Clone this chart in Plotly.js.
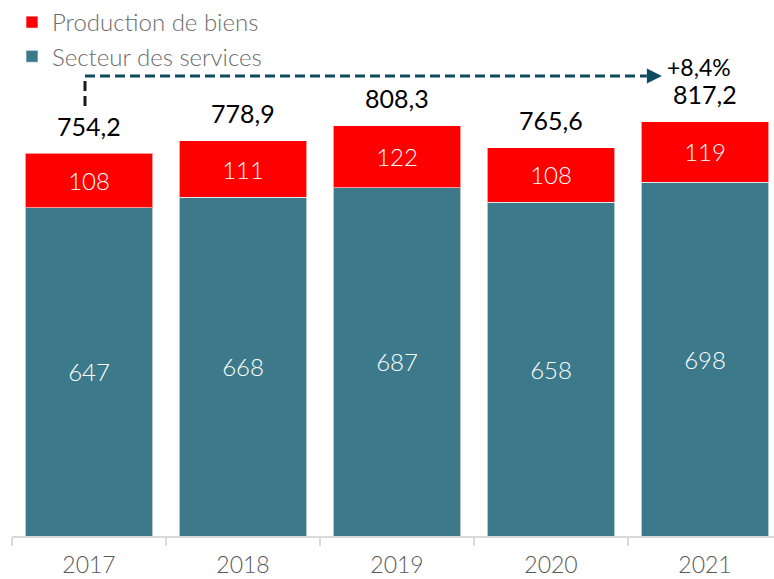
<!DOCTYPE html>
<html>
<head>
<meta charset="utf-8">
<script src="https://cdn.plot.ly/plotly-3.0.1.min.js"></script>
<style>html,body{margin:0;padding:0;background:#fff;}#chart{width:774px;height:579px;}</style>
</head>
<body>
<div id="chart"></div>
<script>
var years = ['2017', '2018', '2019', '2020', '2021'];
var services = [647, 668, 687, 658, 698];
var biens = [108, 111, 122, 108, 119];
var totals = [754.2, 778.9, 808.3, 765.6, 817.2];
var growthLabel = '+8,4%';

function fr(v) { return v.toFixed(1).replace('.', ','); }

var lineStyle = {color: 'rgba(255,255,255,0.6)', width: 1};
var innerFont = {family: 'Lato', size: 24, color: '#ffffff', weight: 300};
var traces = [
  {
    type: 'bar', name: 'Secteur des services', x: years, y: services,
    marker: {color: '#3C7A8B', line: lineStyle},
    text: services.map(String), textposition: 'inside', insidetextanchor: 'middle',
    textfont: innerFont, hoverinfo: 'none'
  },
  {
    type: 'bar', name: 'Production de biens', x: years, y: biens,
    marker: {color: '#FF0000', line: lineStyle},
    text: biens.map(String), textposition: 'inside', insidetextanchor: 'middle',
    textfont: innerFont, hoverinfo: 'none'
  }
];

var annotations = years.map(function (yr, i) {
  return {
    x: i, y: totals[i], xref: 'x', yref: 'y', text: fr(totals[i]),
    showarrow: false, yanchor: 'middle', yshift: 28,
    font: {family: 'Lato', size: 25, color: '#000000'}
  };
});

var first = 0, last = years.length - 1;
var arrowY = 907;
var tipX = last - 0.28;
annotations.push({
  x: tipX, y: arrowY, ax: tipX - 0.11, ay: arrowY, xref: 'x', yref: 'y', axref: 'x', ayref: 'y',
  text: '', showarrow: true, arrowhead: 2, arrowsize: 1, arrowwidth: 3, arrowcolor: '#0E4B5E'
});
annotations.push({
  x: tipX, y: arrowY, xref: 'x', yref: 'y', text: growthLabel, showarrow: false,
  xanchor: 'left', yanchor: 'middle', xshift: 3, yshift: 9,
  font: {family: 'Lato', size: 23, color: '#000000'}
});

var shapes = [
  {type: 'line', xref: 'x', yref: 'y', x0: first - 0.026, x1: first - 0.026, y0: 848, y1: arrowY,
   line: {color: '#1a1a1a', width: 3, dash: '10px,5px'}},
  {type: 'line', xref: 'x', yref: 'y', x0: first - 0.026, x1: tipX - 0.1, y0: arrowY, y1: arrowY,
   line: {color: '#0E4B5E', width: 3, dash: '10px,5px'}}
];

var layout = {
  width: 774, height: 579,
  margin: {l: 12, r: 0, t: 0, b: 43, pad: 0, autoexpand: false},
  paper_bgcolor: '#ffffff', plot_bgcolor: '#ffffff',
  barmode: 'stack', bargap: 0.169,
  showlegend: true,
  legend: {
    x: 0, y: 1, xanchor: 'left', yanchor: 'top',
    traceorder: 'reversed', font: {family: 'Lato', size: 24, color: '#6b6b6b', weight: 300},
    bgcolor: 'rgba(0,0,0,0)', itemclick: false
  },
  xaxis: {
    type: 'category', range: [-0.5, 4.448], fixedrange: true, automargin: false,
    showline: true, linecolor: '#d9d9d9', linewidth: 1.5,
    ticks: 'outside', tickson: 'boundaries', ticklen: 8, tickcolor: '#d9d9d9', tickwidth: 1.5,
    ticklabelstandoff: 8,
    tickfont: {family: 'Lato', size: 23, color: '#595959', weight: 300},
    showgrid: false, zeroline: false
  },
  yaxis: {
    range: [0, 1057], visible: false, showgrid: false, zeroline: false, fixedrange: true, automargin: false
  },
  annotations: annotations,
  shapes: shapes
};

Plotly.newPlot('chart', traces, layout, {displayModeBar: false, staticPlot: true});
</script>
</body>
</html>
